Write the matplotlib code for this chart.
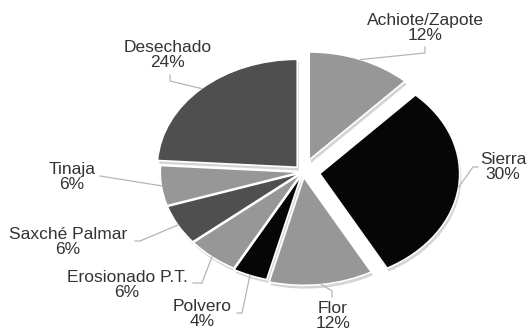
import matplotlib.pyplot as plt
import numpy as np

plt.rcParams['font.family'] = ['Liberation Sans', 'DejaVu Sans']

categorias = ['Achiote/Zapote', 'Sierra', 'Flor', 'Polvero',
              'Erosionado P.T.', 'Saxché Palmar', 'Tinaja', 'Desechado']
porcentajes = [12, 30, 12, 4, 6, 6, 6, 24]
colores = ['#979797', '#060606', '#979797', '#060606',
           '#979797', '#4f4f4f', '#979797', '#4f4f4f']
separacion = [0.12, 0.12, 0.05, 0.03, 0.02, 0.02, 0.02, 0.06]

# posicion de las etiquetas y quiebres de las lineas guia (en pixeles)
pos_texto = [(425, 28), (503, 167), (333, 316), (202, 314),
             (127, 285), (68, 242), (72, 177), (168, 55)]
quiebres = [[(425, 53), (425, 47)],
            [(473, 167), (478, 167)],
            [(332, 291), (332, 297)],
            [(242, 313), (237, 313)],
            [(202, 283), (193, 283)],
            [(140, 241), (135, 241)],
            [(100, 176)],
            [(170, 81), (170, 75)]]

W, H = 532, 336
cx, cy = 303, 172
rx, ry = 140, 108


def px(x, y):
    return ((x - cx) / rx, (cy - y) / ry)


fig = plt.figure(figsize=(W / 100, H / 100), dpi=100)
ax = fig.add_axes([0, 0, 1, 1])

# sombra / grosor del pastel
ax.pie(porcentajes, colors=['#d4d4d4'] * len(porcentajes), explode=separacion,
       startangle=90, counterclock=False, center=(0.012, -0.03),
       wedgeprops=dict(linewidth=0))
wedges, _ = ax.pie(porcentajes, colors=colores, explode=separacion,
                   startangle=90, counterclock=False,
                   wedgeprops=dict(edgecolor='white', linewidth=1.2))

for w, nombre, pct, (tx, ty), q in zip(wedges, categorias, porcentajes,
                                       pos_texto, quiebres):
    ang = np.deg2rad((w.theta1 + w.theta2) / 2)
    x0 = w.center[0] + w.r * np.cos(ang)
    y0 = w.center[1] + w.r * np.sin(ang)
    pts = [(x0, y0)] + [px(*p) for p in q]
    xs, ys = zip(*pts)
    ax.plot(xs, ys, color='#b5b5b5', lw=0.9, zorder=1)
    ax.text(*px(tx, ty), f'{nombre}\n{pct}%', ha='center', va='center',
            fontsize=12.5, color='#333333', linespacing=1.0)

ax.set_aspect('auto')
ax.set_xlim(-cx / rx, (W - cx) / rx)
ax.set_ylim(-(H - cy) / ry, cy / ry)
ax.axis('off')

fig.savefig('out.png', dpi=100)
